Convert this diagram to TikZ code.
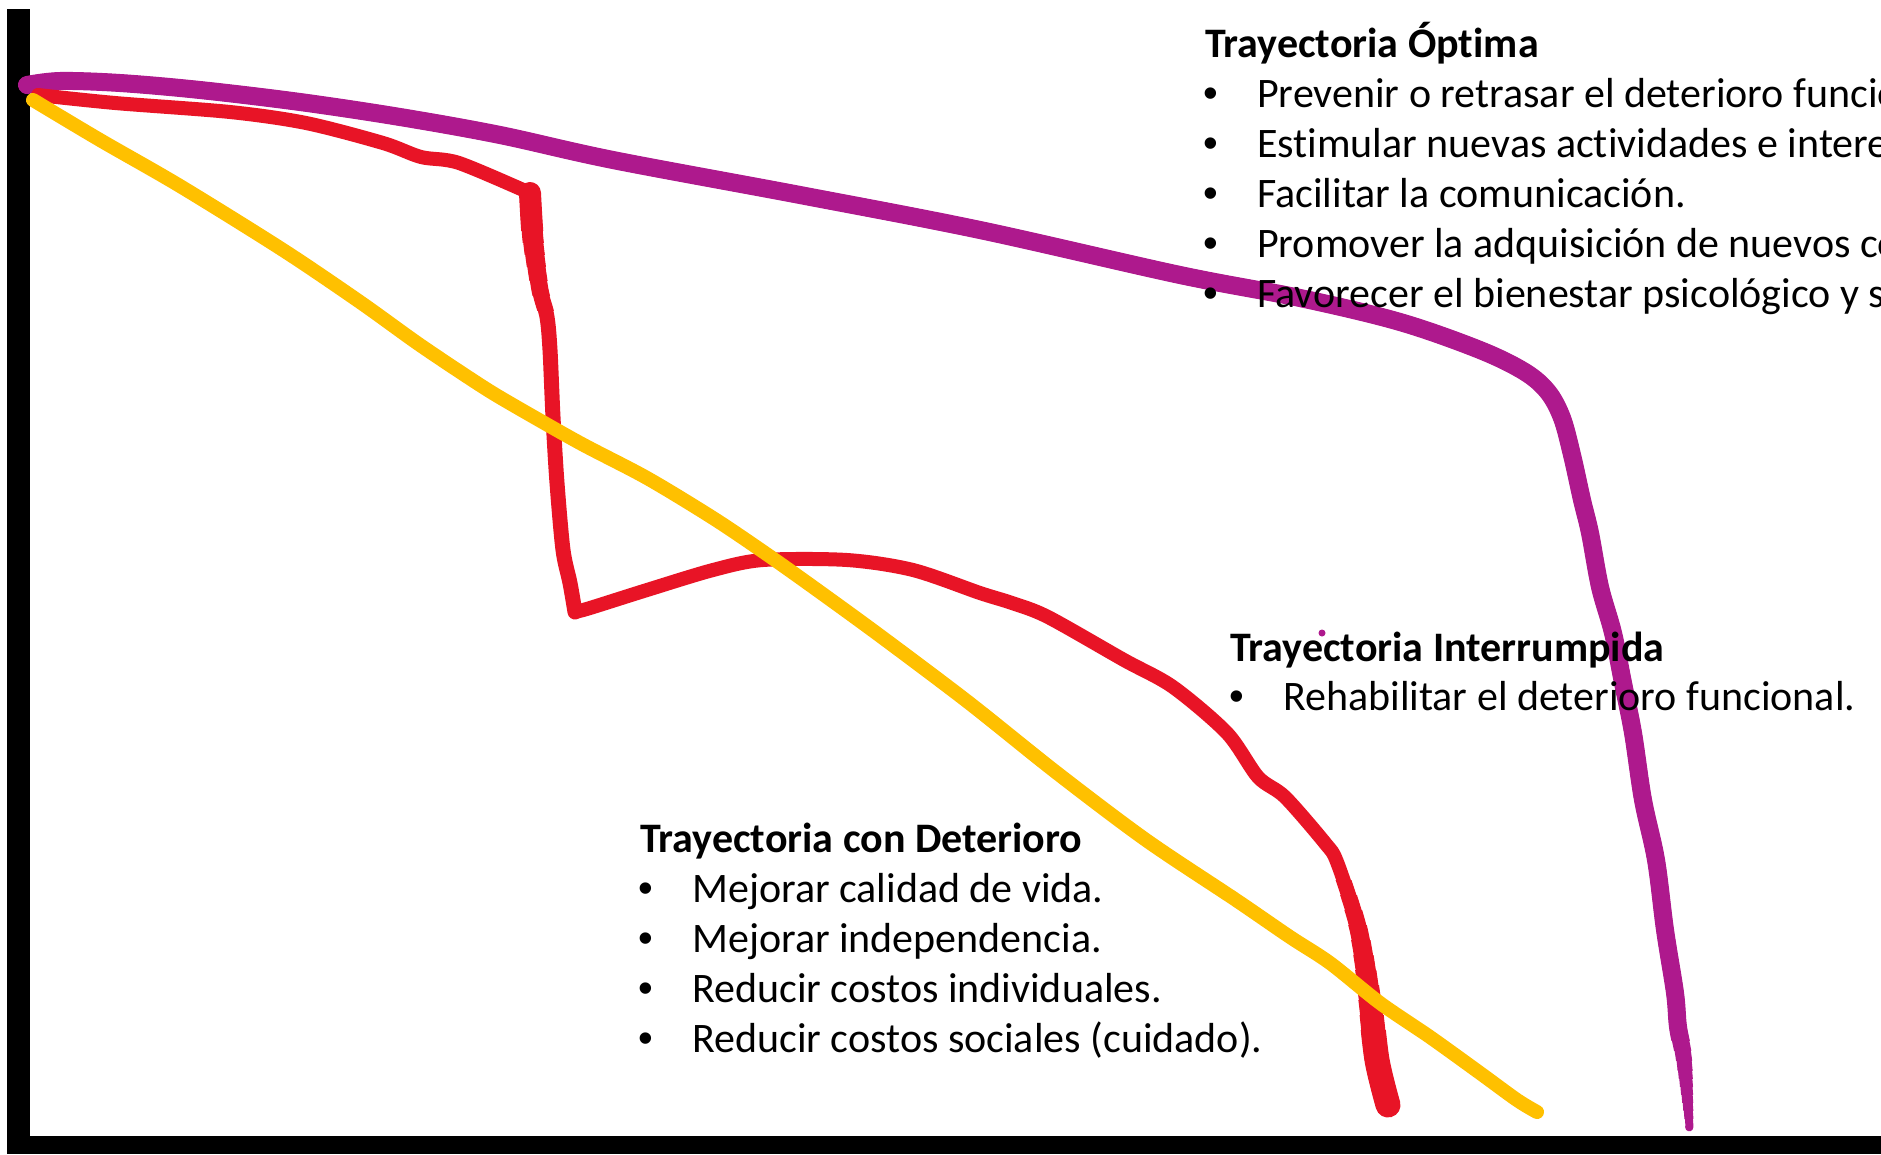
\documentclass[tikz,border=0pt]{standalone}
\usepackage{fontspec}
\setmainfont{Carlito}[Ligatures=NoCommon]
\newfontfamily\bulletfont{Liberation Sans}
\definecolor{lnpurple}{RGB}{174,25,141}
\definecolor{lnred}{RGB}{232,20,38}
\definecolor{lnyellow}{RGB}{255,192,0}
\newcommand{\mybul}{\makebox[56pt][l]{\hspace{2pt}{\bulletfont •}}}
\newcommand{\purplepath}{plot[smooth,tension=0.55] coordinates {(27,85) (60,81) (120,83) (200,90) (300,102) (400,117) (500,135) (613,160) (800,195) (980,230) (1180,275) (1300,298) (1400,322) (1480,350) (1525,372) (1548,392) (1562,418) (1572,455) (1582,500) (1590,533) (1600,587) (1613,633) (1623,683) (1633,733) (1643,800) (1656,860) (1665,930) (1675,993) (1678,1027) (1684,1060) (1689,1120) (1689,1127)}}
\newcommand{\redpathB}{plot[smooth,tension=0.5] coordinates {(530,193) (533,240) (540,290) (547,317) (550,350) (553,417) (557,483) (563,550) (570,583) (575,612)}}
\newcommand{\redpathC}{plot[smooth,tension=0.5] coordinates {(575,612) (590,608) (647,590) (713,570) (763,560) (847,560) (913,570) (980,593) (1012,603) (1048,617) (1124,660) (1173,687) (1227,733) (1258,777) (1285,797) (1325,843) (1337,862) (1358,927) (1369,993) (1377,1060) (1388,1105)}}
\begin{document}
\begin{tikzpicture}[x=1pt,y=-1pt,
  curve/.style={line cap=round,line join=round},
  txt/.style={anchor=base west,inner sep=0pt,font=\fontsize{42}{50}\selectfont},
  head/.style={anchor=base west,inner sep=0pt,font=\fontsize{42}{50}\selectfont\bfseries}]
\useasboundingbox (0,0) rectangle (1881,1154);
\fill[white] (0,0) rectangle (1881,1154);
\begin{scope}
\clip (0,0) rectangle (1881,1154);
% axes
\fill[black] (7,9) rectangle (30,1154);
\fill[black] (7,1136) rectangle (1881,1154);
% purple (optimal) trajectory, thinning at its end
\draw[curve,lnpurple,line width=8pt] \purplepath;
\foreach \w/\yy in {9/1118,10/1110,11/1102,12/1094,13/1086,14/1078,15/1070,16/1060,17/1050,18/1040} {
  \begin{scope}\clip (0,0) rectangle (1881,\yy);
  \draw[curve,lnpurple,line width=\w pt] \purplepath;\end{scope}
}
\fill[lnpurple] (1322,633) circle (3.5);
% red (interrupted) trajectory
\draw[curve,lnred,line width=14pt] plot[smooth,tension=0.5] coordinates {(38,95) (115,103) (230,112) (306,123) (383,143) (421,157) (459,163) (530,193)};
\draw[curve,lnred,line width=15pt] \redpathB;
\foreach \w/\yy in {16/310,17/295,18/280,19/266,20/254,21/242,22/230} {
  \begin{scope}\clip (0,0) rectangle (1881,\yy);
  \draw[curve,lnred,line width=\w pt] \redpathB;\end{scope}
}
\draw[curve,lnred,line width=14pt] \redpathC;
\foreach \w/\yy in {15/880,16/895,17/910,18/925,19/940,20/955,21/970,22/985,23/1000,24/1015,25/1030} {
  \begin{scope}\clip (1200,\yy) rectangle (1881,1154);
  \draw[curve,lnred,line width=\w pt] \redpathC;\end{scope}
}
% yellow (deterioration) trajectory
\draw[curve,lnyellow,line width=14pt] plot[smooth,tension=0.5] coordinates {(33,100) (100,140) (180,186) (283,250) (360,302) (420,345) (480,385) (513,405) (580,443) (647,478) (713,518) (765,553) (813,587) (879,635) (968,702) (1057,773) (1146,840) (1236,900) (1290,937) (1330,963) (1380,1003) (1430,1037) (1480,1073) (1517,1100) (1537,1112)};
% texts
\node[head] (t1) at (1205,57) {Trayectoria Óptima};
\node[txt] (t1a) at (1201,107) {\mybul Prevenir o retrasar el deterioro funcio};
\node[txt] (t1b) at (1201,157) {\mybul Estimular nuevas actividades e interes};
\node[txt] (t1c) at (1201,207) {\mybul Facilitar la comunicación.};
\node[txt] (t1d) at (1201,257) {\mybul Promover la adquisición de nuevos co};
\node[txt] (t1e) at (1201,307) {\mybul Favorecer el bienestar psicológico y s};
\node[head] (t2) at (1230,661) {Trayectoria Interrumpida};
\node[txt] (t2a) at (1227,710) {\mybul Rehabilitar el deterioro funcional.};
\node[head] (t3) at (640,852) {Trayectoria con Deterioro};
\node[txt] (t3a) at (636,902) {\mybul Mejorar calidad de vida.};
\node[txt] (t3b) at (636,952) {\mybul Mejorar independencia.};
\node[txt] (t3c) at (636,1002) {\mybul Reducir costos individuales.};
\node[txt] (t3d) at (636,1052) {\mybul Reducir costos sociales (cuidado).};
\end{scope}
\end{tikzpicture}
\end{document}
